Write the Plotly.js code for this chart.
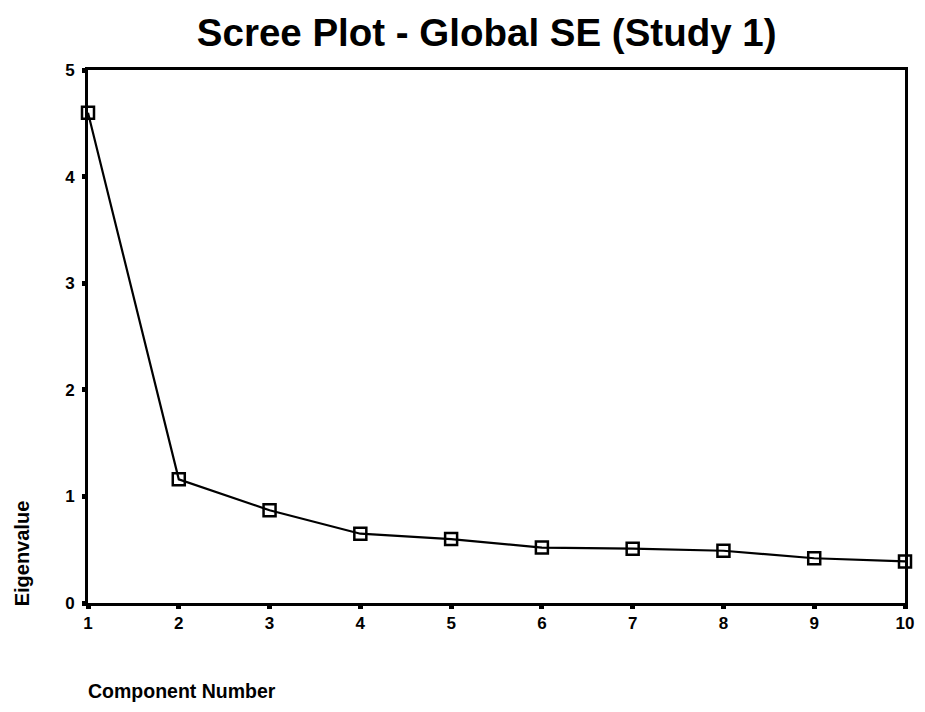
<!DOCTYPE html>
<html>
<head>
<meta charset="utf-8">
<script src="https://cdn.plot.ly/plotly-3.0.1.min.js"></script>
<style>html,body{margin:0;padding:0;background:#fff;}#chart{width:925px;height:712px;}</style>
</head>
<body>
<div id="chart"></div>
<script>
const components = [1, 2, 3, 4, 5, 6, 7, 8, 9, 10];
const eigenvalues = [4.60, 1.16, 0.87, 0.65, 0.60, 0.52, 0.51, 0.49, 0.42, 0.39];
const yTicks = [0, 1, 2, 3, 4, 5];
const titleText = "Scree Plot - Global SE (Study 1)";
const xTitle = "Component Number";
const yTitle = "Eigenvalue";

const FONT = 'Liberation Sans, Arial, sans-serif';

const trace = {
  x: components,
  y: eigenvalues,
  type: 'scatter',
  mode: 'lines+markers',
  line: {color: '#000', width: 2.2},
  marker: {symbol: 'square-open', size: 12, color: '#000', line: {width: 2.5, color: '#000'}},
  cliponaxis: false,
  hoverinfo: 'skip'
};

const layout = {
  width: 925, height: 712,
  margin: {l: 88, r: 20, t: 70, b: 109},
  paper_bgcolor: '#fff', plot_bgcolor: '#fff',
  font: {family: FONT, color: '#000'},
  showlegend: false,
  title: {text: '<b>' + titleText + '</b>', font: {size: 38.5, family: FONT}, xref: 'paper', x: 0.488, xanchor: 'center', y: 0.955, yanchor: 'middle'},
  xaxis: {
    range: [1, 10], tickvals: components, ticktext: components.map(String),
    showgrid: false, zeroline: false, showline: true, linewidth: 3, linecolor: '#000', mirror: true,
    ticks: 'outside', ticklen: 3, tickwidth: 5, tickcolor: '#000',
    tickfont: {size: 17, family: FONT, weight: 'bold'}
  },
  yaxis: {
    range: [0, 5], tickvals: yTicks, ticktext: yTicks.map(String),
    showgrid: false, zeroline: false, showline: true, linewidth: 3, linecolor: '#000', mirror: true,
    ticks: 'outside', ticklen: 3, tickwidth: 5, tickcolor: '#000', ticklabelstandoff: 4,
    tickfont: {size: 17, family: FONT, weight: 'bold'}
  },
  annotations: [
    {text: '<b>' + xTitle + '</b>', xref: 'paper', yref: 'paper', x: 0, y: -0.165, xanchor: 'left', yanchor: 'middle', showarrow: false, xshift: -2,
     font: {size: 19.5, family: FONT}},
    {text: '<b>' + yTitle + '</b>', xref: 'paper', yref: 'paper', x: 0, y: -0.01, xanchor: 'center', yanchor: 'bottom', textangle: -90, showarrow: false, xshift: -66,
     font: {size: 20, family: FONT}}
  ]
};

Plotly.newPlot('chart', [trace], layout, {staticPlot: true, displayModeBar: false});
</script>
</body>
</html>
